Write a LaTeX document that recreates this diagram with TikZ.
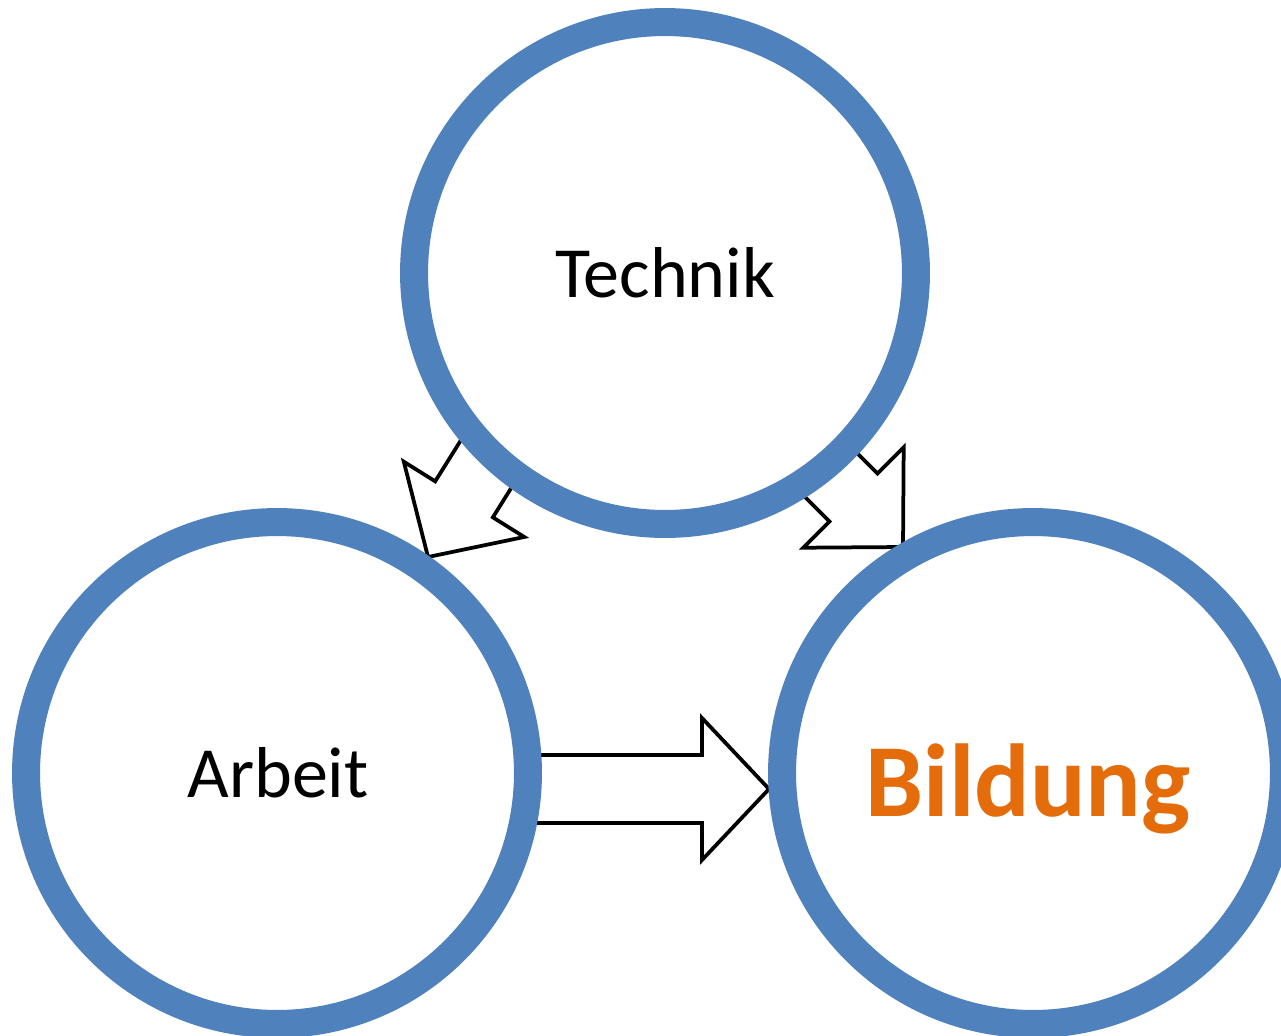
\documentclass[tikz,border=0pt]{standalone}
\usepackage{fontspec}
\setmainfont{Carlito}
\definecolor{ringblue}{HTML}{4F81BD}
\definecolor{bildorange}{HTML}{E46C0A}
\tikzset{
  ring/.style={circle, draw=ringblue, line width=0.56cm, fill=white,
    minimum size=10.04cm, inner sep=0pt, outer sep=0pt},
  blockarrow/.style={draw=black, fill=white, line width=0.075cm, line join=miter},
  ringtext/.style={anchor=base, inner sep=0pt, font=\fontsize{41}{49}\selectfont},
  boldtext/.style={anchor=base, inner sep=0pt, text=bildorange,
    font=\fontsize{59}{71}\selectfont\bfseries},
}
% block arrow with tip at origin pointing along +x; #1 = total length, #2 = head length
\newcommand{\blockarrowpath}[2]{%
  (0,0) -- (-#2,71) -- (-#2,34) -- (-#1,34) -- (-#1,-34) -- (-#2,-34) -- (-#2,-71) -- cycle}
\begin{document}
\begin{tikzpicture}[x=0.02cm, y=-0.02cm]
\clip (0,0) rectangle (1281,1035);
\fill[white] (0,0) rectangle (1281,1035);
% arrow tips
\coordinate (tipA) at (428,557);
\coordinate (tipB) at (903,547);
\coordinate (tipC) at (769,789);
% arrows (behind circles)
\begin{scope}[shift={(tipA)}, rotate=-122]
  \draw[blockarrow] \blockarrowpath{250}{68};
\end{scope}
\begin{scope}[shift={(tipB)}, rotate=-45]
  \draw[blockarrow] \blockarrowpath{250}{70};
\end{scope}
\begin{scope}[shift={(tipC)}]
  \draw[blockarrow] \blockarrowpath{492}{67};
\end{scope}
% circles
\node[ring] (tech) at (665,273) {};
\node[ring] (arb) at (277,773) {};
\node[ring] (bil) at (1033,773) {};
% texts
\node[ringtext] (ttech) at (665,297) {Technik};
\node[ringtext] (tarb) at (278,797) {Arbeit};
\node[boldtext] (tbil) at (1028,816) {Bildung};
\end{tikzpicture}
\end{document}
